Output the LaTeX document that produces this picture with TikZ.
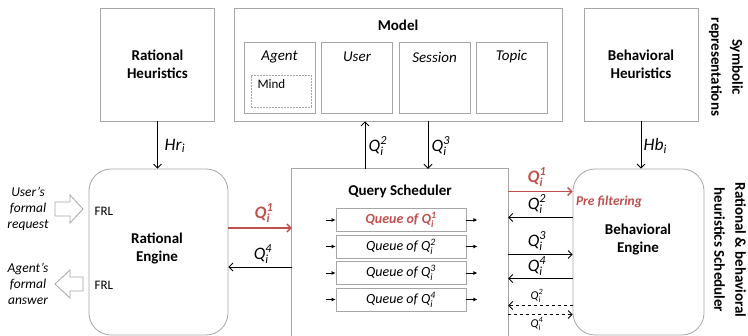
\documentclass[tikz,border=0pt]{standalone}
\usepackage{amsmath}
\usepackage{fontspec}
\setmainfont{Carlito}
\usetikzlibrary{arrows.meta,positioning}
\definecolor{schedred}{HTML}{C0504D}
\definecolor{boxgray}{HTML}{A6A6A6}
\newcommand{\Qsym}[1]{$\textit{Q}_{\textit{i}}^{\textit{#1}}$}

\begin{document}
\begin{tikzpicture}[x=1pt, y=-1pt,
    block/.style={draw=boxgray, line width=0.8pt, inner sep=0pt},
    engine/.style={block, rounded corners=22pt},
    sub/.style={block, minimum width=71pt, minimum height=71pt},
    queue/.style={block, minimum width=130pt, minimum height=23pt, font=\fontsize{14}{16}\selectfont\itshape},
    head/.style={font=\fontsize{15}{18}\selectfont\bfseries, align=center},
    side/.style={font=\fontsize{15}{21}\selectfont\bfseries, align=center, rotate=-90},
    lbl/.style={font=\fontsize{13}{16}\selectfont, align=center},
    qlbl/.style={font=\fontsize{17.5}{19}\selectfont, inner sep=0.5pt},
    qsmall/.style={font=\fontsize{12}{13}\selectfont, inner sep=0pt},
    wire/.style={draw=black, line width=0.8pt, -{Straight Barb[length=4pt,width=8pt]}},
    redwire/.style={wire, draw=schedred, line width=1.4pt},
    dwire/.style={wire, dashed},
    tick/.style={draw=black, line width=0.8pt, -{Latex[length=4pt,width=4pt]}},
    hollow/.style={draw=boxgray, line width=0.8pt, fill=white},
  ]

  \useasboundingbox (0,0) rectangle (748,336);

  % ---------- symbolic representations
  \node[block, minimum width=114pt, minimum height=113pt, head] (rh) at (157.5,64.5) {Rational\\Heuristics};

  \node[block, minimum width=328pt, minimum height=113pt] (model) at (398,64.5) {};
  \node[head] (modelt) at (398,25) {Model};
  \node[sub] (agent) at (279.5,77.5) {};
  \node[sub] (user) at (357,77.5) {};
  \node[sub] (session) at (434.5,77.5) {};
  \node[sub] (topic) at (511.5,77.5) {};
  \node[lbl, font=\fontsize{15}{18}\selectfont\itshape] (agentt) at (279.5,57) {Agent};
  \node[lbl, font=\fontsize{15}{18}\selectfont\itshape] (usert) at (357,57) {User};
  \node[lbl, font=\fontsize{15}{18}\selectfont\itshape] (sessiont) at (434.5,57) {Session};
  \node[lbl, font=\fontsize{15}{18}\selectfont\itshape] (topict) at (511.5,57) {Topic};
  \node[draw=boxgray, line width=0.6pt, dash pattern=on 2pt off 1pt, inner sep=0pt,
        minimum width=60pt, minimum height=32pt] (mind) at (281,91) {};
  \node[lbl, anchor=west] (mindt) at (254,84) {Mind};

  \node[block, minimum width=114pt, minimum height=113pt, head] (bh) at (641,64.5) {Behavioral\\Heuristics};

  \node[side] (symb) at (726,67) {Symbolic\\representations};

  % ---------- engines and scheduler
  \node[engine, minimum width=139pt, minimum height=166pt] (re) at (158.5,252) {};
  \node[head] (ret) at (157,249) {Rational\\Engine};

  \node[inner sep=0pt, minimum width=216pt, minimum height=167pt] (qs) at (400,252.5) {};
  \draw[block] (qs.south west) |- (qs.north east) -- (qs.south east);
  \node[head] (qst) at (400,191) {Query Scheduler};

  \node[engine, minimum width=131pt, minimum height=166pt] (be) at (638.5,252) {};
  \node[head] (bet) at (638,240) {Behavioral\\Engine};
  \node[lbl, font=\fontsize{13.5}{16}\selectfont\bfseries\itshape, text=schedred] (pre) at (609,202) {Pre filtering};

  \node[side] (rbs) at (730,250) {Rational \& behavioral\\heuristics Scheduler};

  % ---------- queues
  \node[queue, text=schedred, font=\fontsize{14}{16}\selectfont\bfseries\itshape] (q1) at (401,220) {Queue of \Qsym{1}};
  \node[queue] (q2) at (401,246.5) {Queue of \Qsym{2}};
  \node[queue] (q3) at (401,273) {Queue of \Qsym{3}};
  \node[queue] (q4) at (401,299.5) {Queue of \Qsym{4}};
  \draw[tick] ([xshift=-10pt]q1.west) -- (q1.west);
  \draw[tick] (q1.east) -- ([xshift=11pt]q1.east);
  \draw[tick] ([xshift=-10pt]q2.west) -- (q2.west);
  \draw[tick] (q2.east) -- ([xshift=11pt]q2.east);
  \draw[tick] ([xshift=-10pt]q3.west) -- (q3.west);
  \draw[tick] (q3.east) -- ([xshift=11pt]q3.east);
  \draw[tick] ([xshift=-10pt]q4.west) -- (q4.west);
  \draw[tick] (q4.east) -- ([xshift=11pt]q4.east);

  % ---------- heuristics and model links
  \draw[wire] (rh.south) -- (rh.south |- re.north);
  \node[qlbl, anchor=west] (hr) at (164,146) {\textit{Hr}$_{\textit{i}}$};
  \draw[wire] ([xshift=-35pt]qs.north) -- ([xshift=-35pt]qs.north |- model.south);
  \node[qlbl, anchor=west] (q2up) at (368,146) {\Qsym{2}};
  \draw[wire] ([xshift=28pt]qs.north |- model.south) -- ([xshift=28pt]qs.north);
  \node[qlbl, anchor=west] (q3down) at (431,146) {\Qsym{3}};
  \draw[wire] (bh.south) -- (bh.south |- be.north);
  \node[qlbl, anchor=west] (hb) at (643,146) {\textit{Hb}$_{\textit{i}}$};

  % ---------- rational engine <-> scheduler
  \draw[redwire] ([yshift=24pt]re.east) -- ([yshift=24pt]re.east -| qs.west);
  \node[qlbl, text=schedred, font=\fontsize{17.5}{19}\selectfont\bfseries] (rq1) at (264,213) {\Qsym{1}};
  \draw[wire] ([yshift=-15pt]re.east -| qs.west) -- ([yshift=-15pt]re.east);
  \node[qlbl] (rq4) at (263,254) {\Qsym{4}};

  % ---------- scheduler <-> behavioral engine
  \draw[redwire] ([yshift=61pt]qs.east) -- ([yshift=61pt]qs.east -| be.west);
  \node[qlbl, text=schedred, font=\fontsize{17.5}{19}\selectfont\bfseries] (bq1) at (537,177) {\Qsym{1}};
  \draw[wire] ([yshift=35pt]qs.east -| be.west) -- ([yshift=35pt]qs.east);
  \node[qlbl] (bq2) at (537,204) {\Qsym{2}};
  \draw[wire] ([yshift=-2pt]qs.east) -- ([yshift=-2pt]qs.east -| be.west);
  \node[qlbl] (bq3) at (537,241) {\Qsym{3}};
  \draw[wire] ([yshift=-26pt]qs.east -| be.west) -- ([yshift=-26pt]qs.east);
  \node[qlbl] (bq4) at (537,266) {\Qsym{4}};
  \draw[dwire] ([yshift=-53pt]qs.east -| be.west) -- ([yshift=-53pt]qs.east);
  \node[qsmall] (dq2) at (537,296) {\Qsym{2}};
  \draw[dwire] ([yshift=-62pt]qs.east) -- ([yshift=-62pt]qs.east -| be.west);
  \node[qsmall] (dq4) at (537,324) {\Qsym{4}};

  % ---------- formal request / answer
  \coordinate (reqtip) at (83,209);
  \draw[hollow] (reqtip) -- ++(-13,-14) -- ++(0,7) -- ++(-15,0) -- ++(0,14) -- ++(15,0) -- ++(0,7) -- cycle;
  \node[lbl, font=\fontsize{13.5}{16}\selectfont\itshape] (req) at (28,209) {User’s\\formal\\request};
  \node[lbl, anchor=west] (frlin) at (91,211) {FRL};

  \coordinate (anstip) at (55,284);
  \draw[hollow] (anstip) -- ++(15,-14) -- ++(0,7) -- ++(13,0) -- ++(0,14) -- ++(-13,0) -- ++(0,7) -- cycle;
  \node[lbl, font=\fontsize{13.5}{16}\selectfont\itshape] (ans) at (28,284) {Agent’s\\formal\\answer};
  \node[lbl, anchor=west] (frlout) at (91,285) {FRL};

\end{tikzpicture}
\end{document}
